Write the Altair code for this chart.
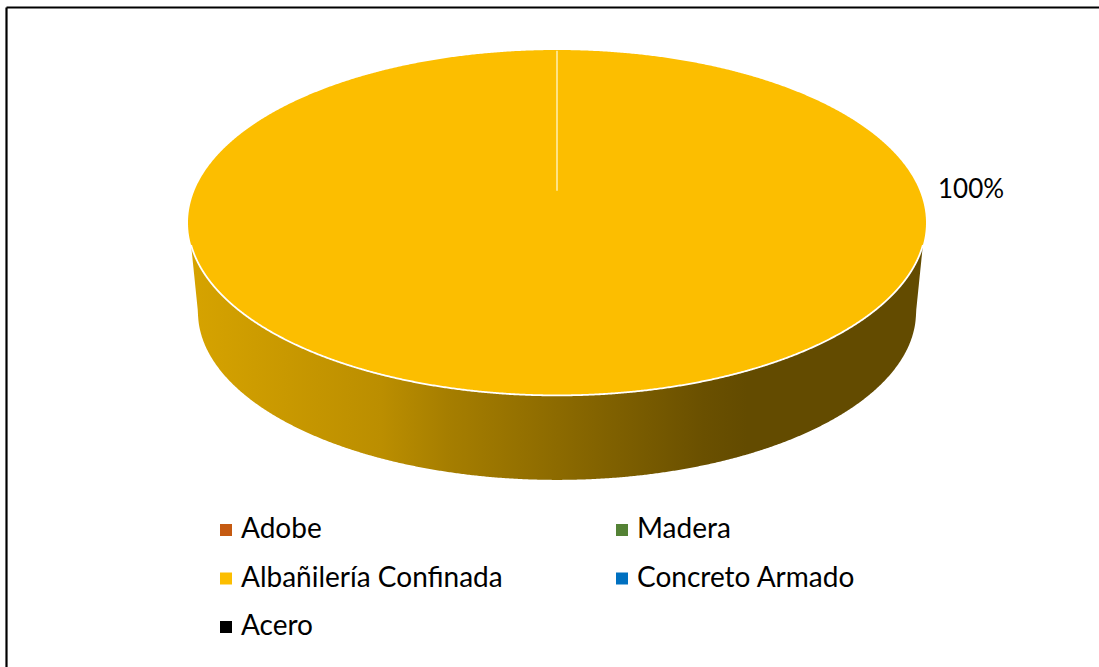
import altair as alt
import numpy as np
import pandas as pd

# Wall material shares of the surveyed dwellings, in legend column order
CATEGORIES = ["Adobe", "Albañilería Confinada", "Acero", "Madera", "Concreto Armado"]
SHARES = [0, 100, 0, 0, 0]
COLORS = ["#C55A11", "#FCBE00", "#000000", "#548235", "#0070C0"]

# Scale of the drawing: one pie radius in pixels, and the plot area edges
RADIUS_PX = 369.0
CENTER_X, CENTER_Y = 557.0, 222.7
LEFT, TOP, WIDTH, HEIGHT = 6, 7, 1093, 660

# Perspective of the tilted disc, in pie radii
TILT = 0.468
RIM_START = 0.13
BASE_RX = 0.973
BASE_RY = 0.455
BASE_DROP = 0.242

x_scale = alt.Scale(
    domain=[(LEFT - CENTER_X) / RADIUS_PX, (LEFT + WIDTH - CENTER_X) / RADIUS_PX],
    nice=False, zero=False,
)
y_scale = alt.Scale(
    domain=[(CENTER_Y - TOP - HEIGHT) / RADIUS_PX, (CENTER_Y - TOP) / RADIUS_PX],
    nice=False, zero=False,
)
x_axis = alt.Axis(labels=False, ticks=False, grid=False, title=None, orient="top",
                  domainColor="#000000", domainWidth=2.2)
y_axis = alt.Axis(labels=False, ticks=False, grid=False, title=None, orient="left",
                  domainColor="#000000", domainWidth=2.2)
X = alt.X("u:Q", scale=x_scale, axis=x_axis)
Y = alt.Y("v:Q", scale=y_scale, axis=y_axis)

# Top face: the only slice with a non-zero share fills the whole ellipse
rows = []
for name, share in zip(CATEGORIES, SHARES):
    if share > 0:
        half_sweep = share / 100 * np.pi
        for t in np.linspace(0, half_sweep, 721):
            rows.append({"categoria": name, "u": np.cos(t),
                         "v": TILT * np.sin(t), "v2": -TILT * np.sin(t)})
top_face = pd.DataFrame(rows)

# Side wall: under the front rim, down to the smaller base ellipse
t = np.linspace(RIM_START, np.pi - RIM_START, 721)
u = np.cos(t)
rim = -TILT * np.sin(t)
edge_u = np.cos(RIM_START)
edge_v = -TILT * np.sin(RIM_START)
base = np.where(
    np.abs(u) <= BASE_RX,
    -BASE_DROP - BASE_RY * np.sqrt(np.clip(1 - (u / BASE_RX) ** 2, 0, 1)),
    edge_v + (edge_u - np.abs(u)) / (edge_u - BASE_RX) * (-BASE_DROP - edge_v),
)
wall = pd.DataFrame({"u": u, "v": rim, "v2": base})

wall_fill = alt.Gradient(
    gradient="linear", x1=0, x2=1, y1=0, y2=0,
    stops=[
        alt.GradientStop(color="#D6A300", offset=0),
        alt.GradientStop(color="#BB8E00", offset=0.26),
        alt.GradientStop(color="#A67E00", offset=0.35),
        alt.GradientStop(color="#6A5000", offset=0.70),
        alt.GradientStop(color="#634B00", offset=0.76),
        alt.GradientStop(color="#634B00", offset=1),
    ],
)

wall_layer = alt.Chart(wall).mark_area(color=wall_fill).encode(x=X, y=Y, y2="v2:Q")

legend = alt.Legend(
    title=None, orient="none", legendX=206, legendY=509, columns=2,
    symbolType="square", symbolSize=144, symbolStrokeWidth=0, symbolOpacity=1,
    labelFont="Lato", labelFontSize=28, labelColor="#000000", labelOffset=1,
    columnPadding=105, rowPadding=20.5, labelLimit=400, gridAlign="each",
)
top_layer = alt.Chart(top_face).mark_area(opacity=1).encode(
    x=X, y=Y, y2="v2:Q",
    color=alt.Color("categoria:N", sort=None, legend=legend,
                    scale=alt.Scale(domain=CATEGORIES, range=COLORS)),
)

rim_layer = alt.Chart(wall).mark_line(color="#FFFFFF", strokeWidth=1.8).encode(x=X, y=Y)

# Boundary left by the empty slices at twelve o'clock
spoke = pd.DataFrame({"u": [0.0], "v": [TILT - 0.002], "v2": [(CENTER_Y - 190.7) / RADIUS_PX]})
spoke_layer = alt.Chart(spoke).mark_rule(color="#FFEFB0", strokeWidth=1.5).encode(x=X, y=Y, y2="v2:Q")

# Data label of the non-empty slice
labels = pd.DataFrame({
    "u": [(938 - CENTER_X) / RADIUS_PX],
    "v": [(CENTER_Y - 198) / RADIUS_PX],
    "texto": [f"{s}%" for s in SHARES if s > 0],
})
label_layer = alt.Chart(labels).mark_text(
    font="Lato", fontSize=26, color="#000000", align="left", baseline="alphabetic",
).encode(x=X, y=Y, text="texto:N")

chart = (
    alt.layer(wall_layer, top_layer, rim_layer, spoke_layer, label_layer)
    .properties(
        width=WIDTH, height=HEIGHT,
        padding={"left": LEFT, "top": TOP, "right": 0, "bottom": 0},
        autosize=alt.AutoSizeParams(type="none"),
        background="#FFFFFF",
    )
    .configure_view(stroke=None)
)
chart.save("out.html", embed_options={"renderer": "svg", "actions": False})
